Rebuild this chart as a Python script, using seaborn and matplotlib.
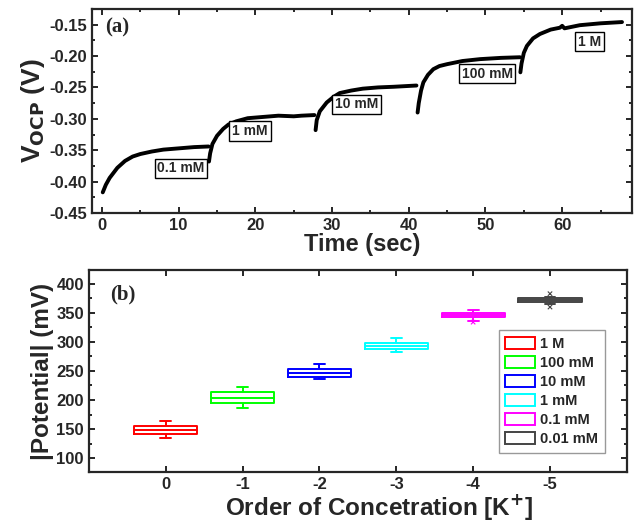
import pandas as pd
import numpy as np
import matplotlib
matplotlib.use("Agg")
import matplotlib.pyplot as plt
import matplotlib.ticker as ticker
import seaborn as sns

# ---- panel (a): open circuit potential vs time, one trace per concentration step ----
t_01mM = [0.1, 0.5, 1.0, 2.0, 3.0, 4.0, 5.0, 6.5, 8.0, 10.0, 12.0, 13.9]
v_01mM = [-0.417, -0.405, -0.394, -0.378, -0.367, -0.360, -0.356, -0.352, -0.349, -0.347, -0.345, -0.344]

t_1mM = [13.95, 14.1, 14.4, 15.0, 15.8, 16.5, 17.5, 19.0, 21.0, 23.0, 25.0, 26.0, 27.7]
v_1mM = [-0.368, -0.355, -0.340, -0.327, -0.316, -0.309, -0.304, -0.299, -0.297, -0.295, -0.296, -0.295, -0.294]

t_10mM = [27.85, 28.0, 28.4, 29.3, 30.2, 31.0, 32.5, 34.0, 36.0, 38.0, 41.0]
v_10mM = [-0.318, -0.302, -0.288, -0.274, -0.265, -0.259, -0.255, -0.252, -0.250, -0.249, -0.247]

t_100mM = [41.15, 41.3, 41.6, 41.9, 42.5, 43.2, 44.0, 45.0, 47.0, 49.3, 52.0, 54.5]
v_100mM = [-0.290, -0.275, -0.255, -0.242, -0.230, -0.221, -0.216, -0.213, -0.208, -0.205, -0.203, -0.202]

t_1M = [54.55, 54.7, 55.0, 55.4, 56.2, 57.1, 58.5, 59.7, 60.0, 60.3, 62.3, 65.0, 67.8]
v_1M = [-0.226, -0.212, -0.195, -0.184, -0.172, -0.165, -0.158, -0.155, -0.152, -0.156, -0.151, -0.148, -0.146]

step_labels = ["0.1 mM", "1 mM", "10 mM", "100 mM", "1 M"]
step_label_t = [10.3, 19.3, 33.2, 50.2, 63.6]
step_label_v = [-0.379, -0.319, -0.277, -0.228, -0.177]

# ---- panel (b): |potential| box stats per order of concentration ----
order_labels = ["0", "-1", "-2", "-3", "-4", "-5"]
conc_labels = ["1 M", "100 mM", "10 mM", "1 mM", "0.1 mM", "0.01 mM"]
conc_colors = ["#ff0000", "#00ff00", "#0000ff", "#00ffff", "#ff00ff", "#444444"]
whisk_lo = [134, 186, 236, 283, 336, 365]
box_q1 = [141, 195, 240, 288, 343, 369]
box_med = [148, 203, 247, 293, 346, 372]
box_q3 = [155, 214, 253, 298, 350, 376]
whisk_hi = [164, 222, 262, 307, 355, 377]
outlier_order = ["-4", "-5", "-5"]
outlier_val = [334, 383, 360]

# style
sns.set_style("ticks")
plt.rcParams["font.family"] = ["Liberation Sans", "DejaVu Sans"]
plt.rcParams["font.weight"] = "bold"
plt.rcParams["axes.labelweight"] = "bold"

fig = plt.figure(figsize=(6.39, 5.21), dpi=100)
ax1 = fig.add_axes([0.144, 0.591, 0.845, 0.392])
ax2 = fig.add_axes([0.139, 0.094, 0.842, 0.388])

# panel (a)
segments = [(t_01mM, v_01mM), (t_1mM, v_1mM), (t_10mM, v_10mM),
            (t_100mM, v_100mM), (t_1M, v_1M)]
for t, v in segments:
    sns.lineplot(x=t, y=v, color="black", linewidth=2.8, sort=False,
                 estimator=None, ax=ax1)

for lab, tx, vy in zip(step_labels, step_label_t, step_label_v):
    ax1.text(tx, vy, lab, ha="center", va="center", fontsize=10,
             fontweight="bold",
             bbox=dict(boxstyle="square,pad=0.2", fc="white", ec="black", lw=1))

ax1.text(0.025, 0.91, "(a)", transform=ax1.transAxes, fontsize=15,
         fontweight="bold", family="Liberation Serif", va="center")

ax1.set_xlim(-1.3, 69.1)
ax1.set_ylim(-0.45, -0.125)
ax1.xaxis.set_major_locator(ticker.MultipleLocator(10))
ax1.xaxis.set_minor_locator(ticker.MultipleLocator(5))
ax1.yaxis.set_major_locator(ticker.MultipleLocator(0.05))
ax1.yaxis.set_minor_locator(ticker.MultipleLocator(0.025))
ax1.yaxis.set_major_formatter(ticker.FormatStrFormatter("%.2f"))
ax1.set_xlabel("Time (sec)", fontsize=17, labelpad=0)
ax1.set_ylabel(r"V$_{\mathbf{OCP}}$ (V)", fontsize=19, labelpad=2)

# panel (b)
df_box = pd.DataFrame({
    "order": np.repeat(order_labels, 5),
    "conc": np.repeat(conc_labels, 5),
    "potential": np.column_stack([whisk_lo, box_q1, box_med, box_q3, whisk_hi]).ravel(),
})

sns.boxplot(
    data=df_box, x="order", y="potential", hue="conc",
    order=order_labels, hue_order=conc_labels,
    palette=dict(zip(conc_labels, conc_colors)),
    fill=False, dodge=False, width=0.82, whis=(0, 100),
    linewidth=1.4, showfliers=False, capwidths=0.14, ax=ax2,
)

out_pos = [order_labels.index(o) for o in outlier_order]
out_col = [conc_colors[order_labels.index(o)] for o in outlier_order]
ax2.scatter(out_pos, outlier_val, marker="x", s=10, c=out_col, linewidths=0.8, zorder=5)

ax2.text(0.04, 0.88, "(b)", transform=ax2.transAxes, fontsize=15,
         fontweight="bold", family="Liberation Serif", va="center")

handles, labels = ax2.get_legend_handles_labels()
ax2.legend(handles, labels, loc="lower right", bbox_to_anchor=(0.973, 0.06),
           frameon=True, fancybox=False, edgecolor="gray",
           handlelength=2.0, handleheight=0.95, labelspacing=0.32,
           handletextpad=0.4, borderpad=0.45, prop={"weight": "bold", "size": 10.5})

ax2.set_xlim(-1, 6)
ax2.set_ylim(76, 424)
ax2.yaxis.set_major_locator(ticker.MultipleLocator(50))
ax2.yaxis.set_minor_locator(ticker.MultipleLocator(25))
ax2.set_xlabel(r"Order of Concetration [K$^{\mathbf{+}}$]", fontsize=17.5, labelpad=0)
ax2.xaxis.label.set_x(0.539)
ax2.set_ylabel("|Potential| (mV)", fontsize=17.5, labelpad=2)

for ax in (ax1, ax2):
    for sp in ax.spines.values():
        sp.set_visible(True)
        sp.set_linewidth(1.6)
    ax.tick_params(which="both", direction="in", top=True, right=True,
                   width=1.4, labelsize=12)
    ax.tick_params(which="major", length=4)
    ax.tick_params(which="minor", length=2.5)
    for lbl in ax.get_xticklabels() + ax.get_yticklabels():
        lbl.set_fontweight("bold")

fig.savefig("out.png", dpi=100)
